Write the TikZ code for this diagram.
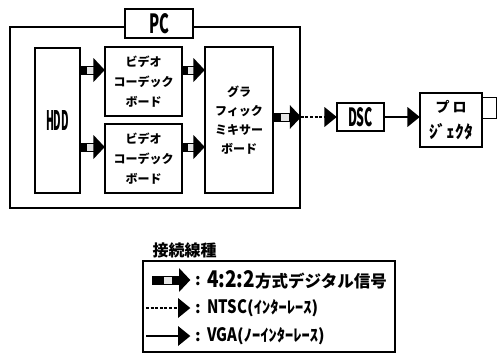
\documentclass[tikz,border=0pt]{standalone}
\usepackage{fontspec}
\setmainfont{Noto Sans CJK JP}
\usetikzlibrary{decorations.markings}
\newcommand{\fs}[1]{\fontsize{#1}{#1}\selectfont}
\begin{document}
\begin{tikzpicture}[x=1pt,y=-1pt,font=\bfseries,
  blk/.style={draw,line width=1.1pt,inner sep=0pt,align=center,
    font=\bfseries\fontsize{12}{20}\selectfont},
  fat/.style={line width=9pt,shorten >=10pt,
    postaction={decorate},
    decoration={markings,
      mark=at position 0.42 with {\fill[gray!20] (-4,-3.5) rectangle (4,3.5);},
      mark=at position 1 with {\fill[black] (0.3,0) -- (-11,12) -- (-11,-12) -- cycle;}}},
  thinhead/.style={shorten >=11pt,postaction={decorate},
    decoration={markings,
      mark=at position 1 with {\fill[black,solid] (0.3,0) -- (-12,10) -- (-12,-10) -- cycle;}}},
  dsh/.style={line width=1.3pt,dash pattern=on 3pt off 1.6pt,thinhead},
  sol/.style={line width=1.2pt,thinhead},
  lbl/.style={inner sep=0pt,anchor=west}]
\useasboundingbox (0,0) rectangle (497,353);
% PC frame
\node[draw,line width=1.6pt,minimum width=290,minimum height=181,inner sep=0] (pc) at (155,117.5) {};
\node[draw,fill=white,line width=1.3pt,minimum width=68,minimum height=29,inner sep=0] (pclabel) at (159,23.5) {\resizebox{20pt}{20pt}{PC}};
% inner blocks
\node[blk,minimum width=45,minimum height=145] (hdd) at (57.5,120.5) {\resizebox{23pt}{20pt}{HDD}};
\node[blk,minimum width=77,minimum height=69] (c1) at (143.5,81.5) {ビデオ\\コーデック\\ボード};
\node[blk,minimum width=77,minimum height=69] (c2) at (143.5,158.5) {ビデオ\\コーデック\\ボード};
\node[blk,minimum width=68,minimum height=146,font=\bfseries\fontsize{12}{19}\selectfont] (mix) at (239,120) {グラ\\フィック\\ミキサー\\ボード};
\node[blk,minimum width=47,minimum height=28] (dsc) at (360.5,117) {\resizebox{25pt}{19pt}{DSC}};
\node[blk,minimum width=62,minimum height=54,font=\bfseries\fontsize{14}{26}\selectfont] (proj) at (451,120) {プ\hspace{3pt}ロ\\{\fs{17.5}ｼﾞｪｸﾀ}};
\node[draw,line width=1.1pt,minimum width=14,minimum height=21,inner sep=0,anchor=north west] (lens) at (482,97) {};
% connectors
\coordinate (ya) at (0,70);
\coordinate (yb) at (0,147);
\coordinate (yc) at (0,117);
\draw[fat] (hdd.east |- ya) -- (c1.west |- ya);
\draw[fat] (hdd.east |- yb) -- (c2.west |- yb);
\draw[fat] (c1.east |- ya) -- (mix.west |- ya);
\draw[fat] (c2.east |- yb) -- (mix.west |- yb);
\draw[fat] (mix.east |- yc) -- (pc.east |- yc);
\draw[dsh] (pc.east |- yc) -- (dsc.west);
\draw[sol] (dsc.east) -- (proj.west |- dsc.east);
% legend
\node[inner sep=0] (ltitle) at (184.5,250) {\fs{16}接続線種};
\node[draw,line width=1.3pt,minimum width=252,minimum height=91,inner sep=0] (lbox) at (269,306.5) {};
\coordinate (r1s) at (152,280); \coordinate (r1e) at (190,280);
\coordinate (r2s) at (146,308); \coordinate (r2e) at (190,308);
\coordinate (r3s) at (146,336); \coordinate (r3e) at (190,336);
\draw[fat] (r1s) -- (r1e);
\draw[dsh] (r2s) -- (r2e);
\draw[sol] (r3s) -- (r3e);
\node[inner sep=0] (k1) at (198,281) {\fs{16}:};
\node[inner sep=0] (k2) at (198,309) {\fs{16}:};
\node[inner sep=0] (k3) at (198,337) {\fs{16}:};
\node[lbl] (t1) at (207,280) {\resizebox{48pt}{17pt}{4:2:2}\fs{16.5}方式デジタル信号};
\node[lbl] (t2) at (207,308) {\fs{16.5}\resizebox{40pt}{14pt}{NTSC}(ｲﾝﾀｰﾚｰｽ)};
\node[lbl] (t3) at (207,336) {\fs{16.5}\resizebox{30pt}{14pt}{VGA}(ﾉｰｲﾝﾀｰﾚｰｽ)};
\end{tikzpicture}
\end{document}
